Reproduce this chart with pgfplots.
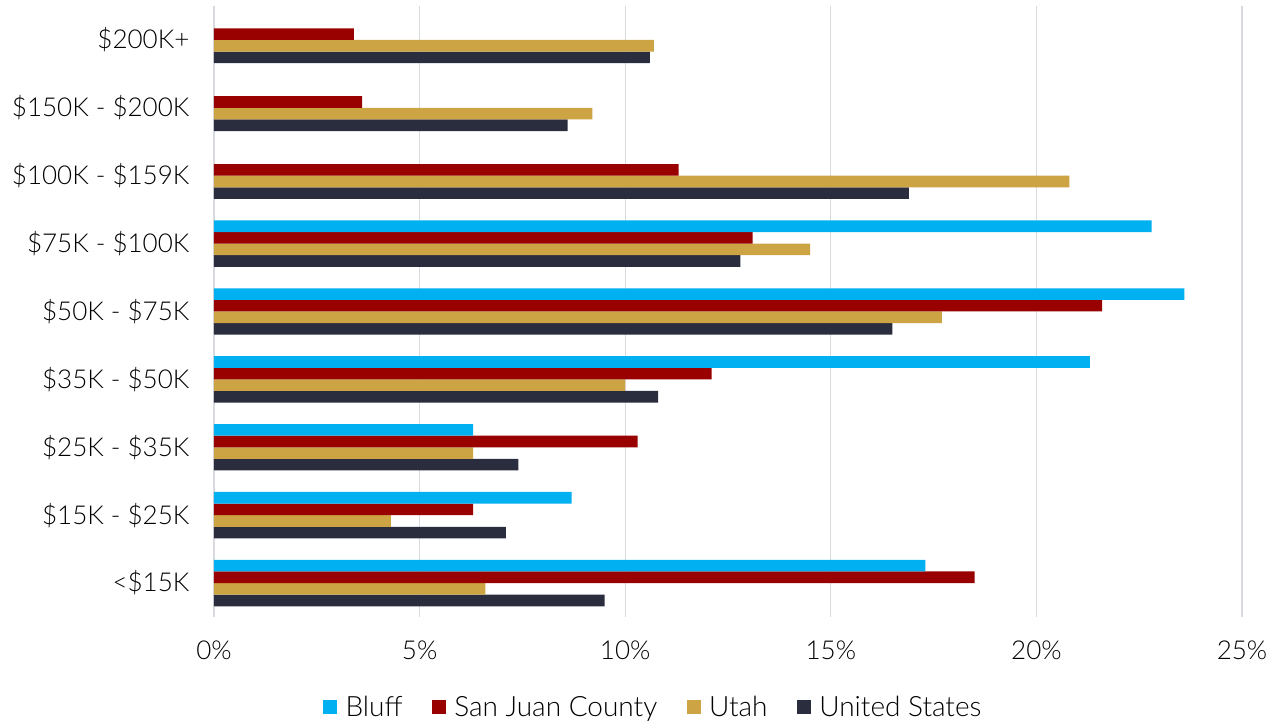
\documentclass[border=0pt]{standalone}
\usepackage{fontspec}
\setmainfont{Lato Light}
\usepackage{pgfplots}
\pgfplotsset{compat=1.18}

\definecolor{bluff}{HTML}{00B0F0}
\definecolor{sjc}{HTML}{990000}
\definecolor{utah}{HTML}{CCA443}
\definecolor{usa}{HTML}{2A2D3E}
\definecolor{gridc}{HTML}{D9D9E0}

\begin{document}
\begin{tikzpicture}[font=\fontsize{19.5pt}{23pt}\selectfont]
\begin{axis}[
    name=ax,
    scale only axis,
    width=771pt, height=458.25pt,
    xbar=0pt, bar width=8.7pt,
    xmin=0, xmax=25, ymin=-0.5, ymax=8.5,
    xtick={0,5,...,25}, ytick={0,...,8},
    yticklabels={<\$15K, \$15K - \$25K, \$25K - \$35K, \$35K - \$50K,
        \$50K - \$75K, \$75K - \$100K, \$100K - \$159K,
        \$150K - \$200K, \$200K+},
    xticklabel={\pgfmathprintnumber{\tick}\%},
    /pgf/number format/assume math mode=true,
    xmajorgrids, major grid style={gridc, line width=0.9pt},
    axis line style={draw=none}, tick style={draw=none},
    yticklabel style={inner sep=0pt, xshift=-14pt},
    xticklabel style={inner sep=0pt, yshift=-18pt},
    reverse legend,
    legend columns=4,
    legend style={draw=none, at={(0.428,-0.148)}, anchor=center,
        font=\fontsize{21pt}{25pt}\selectfont,
        /tikz/every odd column/.append style={column sep=3.8pt},
        /tikz/every even column/.append style={column sep=19.5pt},
        nodes={inner sep=2.5pt}},
    legend image code/.code={\fill[#1] (0pt,-5.25pt) rectangle (10.5pt,5.25pt);},
]
% US first so that Bluff ends up on top in each group
\addplot[fill=usa, draw=none] coordinates {
    (9.5,0) (7.1,1) (7.4,2) (10.8,3) (16.5,4) (12.8,5) (16.9,6) (8.6,7) (10.6,8)};
\addlegendentry{United States}
\addplot[fill=utah, draw=none] coordinates {
    (6.6,0) (4.3,1) (6.3,2) (10.0,3) (17.7,4) (14.5,5) (20.8,6) (9.2,7) (10.7,8)};
\addlegendentry{Utah}
\addplot[fill=sjc, draw=none] coordinates {
    (18.5,0) (6.3,1) (10.3,2) (12.1,3) (21.6,4) (13.1,5) (11.3,6) (3.6,7) (3.4,8)};
\addlegendentry{San Juan County}
\addplot[fill=bluff, draw=none] coordinates {
    (17.3,0) (8.7,1) (6.3,2) (21.3,3) (23.6,4) (22.8,5)};
\addlegendentry{Bluff}
\end{axis}
\path ([shift={(-160.5pt,-79.5pt)}]ax.south west) rectangle ([shift={(29.25pt,4.5pt)}]ax.north east);
\end{tikzpicture}
\end{document}
